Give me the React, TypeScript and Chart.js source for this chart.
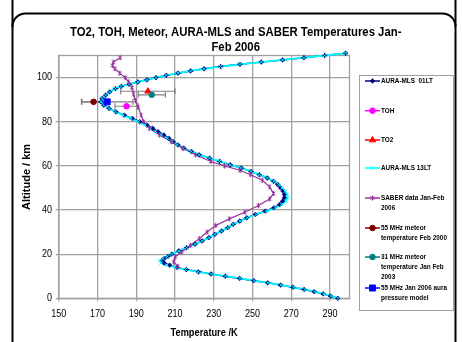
import React, { useEffect, useRef } from "react";
import { Chart, registerables } from "chart.js";

Chart.register(...registerables);

const FONT = "'Liberation Sans', Arial, sans-serif";
const SQUEEZE = 0.84; // the reference text is horizontally condensed

const titleLines = ["TO2, TOH, Meteor, AURA-MLS and SABER Temperatures Jan-", "Feb 2006"];
const xAxisTitle = "Temperature /K";
const yAxisTitle = "Altitude / km";
const xTicks = [150, 170, 190, 210, 230, 250, 270, 290];
const yTicks = [0, 20, 40, 60, 80, 100];

const seriesNames = [
  "AURA-MLS  01LT",
  "TOH",
  "TO2",
  "AURA-MLS 13LT",
  "SABER data Jan-Feb\n2006",
  "55 MHz meteor\ntemperature Feb 2000",
  "31 MHz meteor\ntemperature Jan Feb\n2003",
  "55 MHz Jan 2006 aura\npressure model",
];

// AURA-MLS profiles (altitude km, temperature K)
const auraAltitude = [
  0, 1, 2, 3, 4, 5, 6, 7, 8, 9, 10, 11, 12, 13, 14, 15, 16, 17, 18, 19, 20,
  21.5, 23, 24.5, 26, 27.5, 29, 30.5, 32, 33.5, 35, 36.5, 38, 39.5, 41, 42.5, 44, 45.5, 47, 48.5, 50,
  51.5, 53, 54.5, 56, 57.5, 59, 60.5, 62, 63.5, 65, 66.5, 68, 69.5, 71, 72.5, 74, 75.5, 77, 78.5, 80,
  81.5, 83, 84.5, 86, 87.5, 89, 90.5, 92, 93.5, 95, 96, 97, 98, 99, 100, 101, 102, 103, 104, 105,
  106, 107, 108, 109, 110, 111,
];
const aura01LT = [
  294, 290.2, 286.4, 281.8, 276.6, 270.8, 264.4, 257.8, 250.6, 243.3, 235.9, 228.6, 222.1, 215.8, 211, 207.2, 204.4, 203.4, 204.4, 206.4, 208.3,
  212, 216, 220.3, 224, 227.5, 230.5, 234, 237.2, 240, 243.4, 247, 251.5, 256.5, 261, 264, 265.5, 266.4, 266.5, 265.8, 264.5,
  263, 260.8, 257.6, 253.5, 249.2, 244.2, 238.5, 233, 227.8, 222.5, 218.5, 214.5, 211.5, 209, 206.8, 204.2, 201.2, 198.5, 195.5, 191.8,
  188, 183.8, 179.5, 176, 173.3, 171.8, 172.4, 174.2, 176.3, 179.3, 182.3, 186.3, 190.8, 195.5, 200.2, 205.5, 211.5, 218, 225, 233.5,
  243.5, 254.5, 265.5, 276.5, 287.2, 298,
];
const aura13LT = [
  294.3, 290.6, 286.8, 282.2, 277, 271.2, 264.8, 258.1, 250.9, 243.6, 236.1, 228.8, 222, 215.4, 210, 205.8, 202.8, 202.2, 203.8, 206, 208.2,
  212, 216, 220.3, 224, 227.5, 230.5, 234, 237.2, 240, 243.6, 247.3, 252, 257.2, 261.8, 265, 267.2, 268, 267.8, 266.8, 265.2,
  263.5, 261, 257.6, 253.5, 249.2, 244.2, 238.5, 233, 227.8, 222.5, 218.3, 214.3, 211.2, 208.5, 206, 203, 200, 197.2, 194.5, 191,
  187.2, 183.2, 179.3, 176, 173.3, 171.8, 172.4, 174.2, 176.3, 179.3, 182.3, 186.3, 190.8, 195.5, 200.2, 205.5, 211.5, 218, 225, 233.5,
  243.5, 254.5, 265.5, 276.5, 287.2, 298,
];

// SABER Jan-Feb 2006
const saberAltitude = [
  14.5, 16.5, 18.8, 21, 24, 27, 30, 33, 36, 39, 42, 45, 47.5, 50.5, 53.5, 56, 58, 60, 62, 65, 68, 71, 74, 77,
  80, 83, 86.5, 89.5, 92.5, 95.5, 98, 100, 102, 104, 105.5, 107, 109,
];
const saberTemp = [
  211.5, 209.3, 210.1, 213.5, 218, 222.5, 226.5, 231, 238, 246, 253, 258.8, 260.8, 258.8, 255, 249, 243.5, 235.5, 228.5, 220.5, 214, 208, 202, 196.8,
  193.8, 192.5, 191, 189.6, 188.6, 187.8, 186, 184.3, 181.5, 179, 177.7, 178.2, 181.7,
];

// single measurements: TOH, TO2, 55 MHz meteor 2000, 31 MHz meteor 2003, 55 MHz aura model
const pointTemp = [185, 196, 168, 198, 175];
const pointAltitude = [87, 93.8, 89, 92.2, 89];
const pointError = [6, 14, 6, 7, 13.3];

const toXY = (ts: number[], alts: number[]) => ts.map((t, i) => ({ x: t, y: alts[i] }));

// visual style per legend entry
const seriesStyle = [
  { color: "#000080", style: "rectRot", r: 2.4, fill: "#000080", stroke: "#000080", bw: 0.5 },
  { color: "#ff00ff", style: "circle", r: 2.8, fill: "#ff00ff", stroke: "#ff00ff", bw: 1 },
  { color: "#ff0000", style: "triangle", r: 3.6, fill: "#ff0000", stroke: "#ff0000", bw: 1 },
  { color: "#00ffff", style: "crossRot", r: 2.3, fill: "#00ffff", stroke: "#00ffff", bw: 1 },
  { color: "#993399", style: "asterisk", r: 2.6, fill: "#993399", stroke: "#993399", bw: 1 },
  { color: "#800000", style: "circle", r: 2.8, fill: "#800000", stroke: "#800000", bw: 1 },
  { color: "#008080", style: "circle", r: 2.8, fill: "#008080", stroke: "#008080", bw: 1 },
  { color: "#0000ff", style: "rect", r: 4.2, fill: "#0000ff", stroke: "#0000ff", bw: 1 },
];

function drawMarker(ctx: CanvasRenderingContext2D, style: string, x: number, y: number, r: number, fill: string, stroke: string, lw: number) {
  ctx.save();
  ctx.beginPath();
  ctx.lineWidth = lw;
  ctx.fillStyle = fill;
  ctx.strokeStyle = stroke;
  if (style === "circle") {
    ctx.arc(x, y, r, 0, Math.PI * 2);
    ctx.fill();
    ctx.stroke();
  } else if (style === "rect") {
    const s = r * Math.SQRT1_2;
    ctx.rect(x - s, y - s, 2 * s, 2 * s);
    ctx.fill();
    ctx.stroke();
  } else if (style === "rectRot") {
    ctx.moveTo(x, y - r);
    ctx.lineTo(x + r, y);
    ctx.lineTo(x, y + r);
    ctx.lineTo(x - r, y);
    ctx.closePath();
    ctx.fill();
    ctx.stroke();
  } else if (style === "triangle") {
    let a = 0;
    ctx.moveTo(x + Math.sin(a) * r, y - Math.cos(a) * r);
    a += (2 * Math.PI) / 3;
    ctx.lineTo(x + Math.sin(a) * r, y - Math.cos(a) * r);
    a += (2 * Math.PI) / 3;
    ctx.lineTo(x + Math.sin(a) * r, y - Math.cos(a) * r);
    ctx.closePath();
    ctx.fill();
    ctx.stroke();
  } else {
    const o = r * Math.SQRT1_2;
    ctx.moveTo(x - o, y - o);
    ctx.lineTo(x + o, y + o);
    ctx.moveTo(x - o, y + o);
    ctx.lineTo(x + o, y - o);
    if (style === "asterisk") {
      ctx.moveTo(x, y - r);
      ctx.lineTo(x, y + r);
    }
    ctx.stroke();
  }
  ctx.restore();
}

// Excel-like "star" marker (x with vertical bar) as an image for Chart.js
function markerImage(st: any) {
  const size = Math.ceil(st.r * 2 + 3);
  const c = document.createElement("canvas");
  c.width = size;
  c.height = size;
  const cx = c.getContext("2d");
  if (cx) drawMarker(cx, st.style, size / 2, size / 2, st.r, st.fill, st.stroke, st.bw);
  return c;
}

function text(ctx: CanvasRenderingContext2D, s: string, x: number, y: number, font: string, align: CanvasTextAlign, sx: number) {
  ctx.save();
  ctx.translate(x, y);
  ctx.scale(sx, 1);
  ctx.font = font;
  ctx.textAlign = align;
  ctx.textBaseline = "middle";
  ctx.fillStyle = "#000";
  ctx.fillText(s, 0, 0);
  ctx.restore();
}

const legendRows = [81, 110.7, 140, 168, 198, 228, 257, 288];

const decorPlugin = {
  id: "decor",
  beforeDraw(chart: any) {
    const { ctx, width, height } = chart;
    ctx.save();
    ctx.fillStyle = "#ffffff";
    ctx.fillRect(0, 0, width, height);
    ctx.restore();
  },
  beforeDatasetsDraw(chart: any) {
    const { ctx, chartArea: a, scales } = chart;
    ctx.save();
    ctx.strokeStyle = "#a0a0a0";
    ctx.lineWidth = 1.3;
    ctx.strokeRect(a.left, a.top, a.right - a.left, a.bottom - a.top);
    // error bars
    ctx.strokeStyle = "#808080";
    ctx.lineWidth = 1.2;
    for (let i = 0; i < pointTemp.length; i++) {
      const y = scales.y.getPixelForValue(pointAltitude[i]);
      const x1 = scales.x.getPixelForValue(pointTemp[i] - pointError[i]);
      const x2 = scales.x.getPixelForValue(pointTemp[i] + pointError[i]);
      ctx.beginPath();
      ctx.moveTo(x1, y);
      ctx.lineTo(x2, y);
      ctx.moveTo(x1, y - 3);
      ctx.lineTo(x1, y + 3);
      ctx.moveTo(x2, y - 3);
      ctx.lineTo(x2, y + 3);
      ctx.stroke();
    }
    ctx.restore();
  },
  afterDraw(chart: any) {
    const { ctx, chartArea: a, scales } = chart;
    ctx.save();
    // tick labels
    const tickFont = `10.5px ${FONT}`;
    xTicks.forEach((v) => text(ctx, String(v), scales.x.getPixelForValue(v), 314.2, tickFont, "center", 0.86));
    yTicks.forEach((v) => text(ctx, String(v), 52, scales.y.getPixelForValue(v), tickFont, "right", 0.86));
    // title
    const titleFont = `bold 13.5px ${FONT}`;
    text(ctx, titleLines[0], 235.7, 32, titleFont, "center", SQUEEZE);
    text(ctx, titleLines[1], 235.7, 47, titleFont, "center", SQUEEZE);
    // axis titles
    text(ctx, xAxisTitle, (a.left + a.right) / 2, 333, `bold 11px ${FONT}`, "center", SQUEEZE);
    ctx.save();
    ctx.translate(27, (a.top + a.bottom) / 2);
    ctx.rotate(-Math.PI / 2);
    text(ctx, yAxisTitle, 0, 0, `bold 11px ${FONT}`, "center", 1);
    ctx.restore();
    // legend
    ctx.fillStyle = "#fff";
    ctx.fillRect(359.5, 75.5, 94, 235);
    ctx.strokeStyle = "#a0a0a0";
    ctx.lineWidth = 1;
    ctx.strokeRect(359.5, 75.5, 94, 235);
    seriesNames.forEach((name, i) => {
      const st = seriesStyle[i];
      const y = legendRows[i];
      ctx.strokeStyle = st.color;
      ctx.lineWidth = 1.5;
      ctx.beginPath();
      ctx.moveTo(365, y);
      ctx.lineTo(380, y);
      ctx.stroke();
      drawMarker(ctx, st.style, 372.5, y, st.r, st.fill, st.stroke, st.bw);
      name.split("\n").forEach((line, k) => {
        text(ctx, line, 381, y + k * 9.8, `bold 7.7px ${FONT}`, "left", 0.83);
      });
    });
    // outer frame
    ctx.strokeStyle = "#000";
    ctx.lineWidth = 2;
    ctx.beginPath();
    ctx.moveTo(12.5, 0);
    ctx.lineTo(12.5, 342);
    ctx.moveTo(455.5, 0);
    ctx.lineTo(455.5, 342);
    ctx.stroke();
    ctx.beginPath();
    ctx.moveTo(12.5, 27);
    ctx.arcTo(12.5, 13.5, 26, 13.5, 13);
    ctx.lineTo(442, 13.5);
    ctx.arcTo(455.5, 13.5, 455.5, 27, 13);
    ctx.stroke();
    ctx.restore();
  },
};

export default function App() {
  const ref = useRef<HTMLCanvasElement>(null);
  useEffect(() => {
    const canvas = ref.current;
    if (!canvas) return;
    const lineOnly = (i: number, data: any[], width: number, order: number) => ({
      label: seriesNames[i] + " line",
      data,
      showLine: true,
      borderColor: seriesStyle[i].color,
      backgroundColor: seriesStyle[i].color,
      borderWidth: width,
      pointRadius: 0,
      order,
      clip: false,
    });
    const markers = (i: number, data: any[], order: number) => {
      const st = seriesStyle[i];
      return {
        label: seriesNames[i],
        data,
        showLine: false,
        borderColor: st.color,
        backgroundColor: st.fill,
        pointStyle: st.style === "asterisk" ? markerImage(st) : st.style,
        pointRadius: st.r,
        pointBackgroundColor: st.fill,
        pointBorderColor: st.stroke,
        pointBorderWidth: st.bw,
        order,
        clip: false,
      };
    };
    const single = (k: number) => [{ x: pointTemp[k], y: pointAltitude[k] }];
    // lines are drawn first (under all markers), markers in legend order on top
    const datasets = [
      lineOnly(0, toXY(aura01LT, auraAltitude), 1.5, 30),
      lineOnly(3, toXY(aura13LT, auraAltitude), 1.8, 29),
      lineOnly(4, toXY(saberTemp, saberAltitude), 1.2, 28),
      markers(0, toXY(aura01LT, auraAltitude), 20),
      markers(1, single(0), 19),
      markers(2, single(1), 18),
      markers(3, toXY(aura13LT, auraAltitude), 17),
      markers(4, toXY(saberTemp, saberAltitude), 16),
      markers(5, single(2), 15),
      markers(6, single(3), 14),
      markers(7, single(4), 13),
    ];
    const chart = new Chart(canvas, {
      type: "scatter",
      data: { datasets } as any,
      options: {
        animation: false,
        responsive: false,
        devicePixelRatio: 1,
        events: [],
        layout: { padding: { top: 55.5, right: 112.5, bottom: 0, left: 0 } },
        plugins: { legend: { display: false }, title: { display: false }, tooltip: { enabled: false } },
        scales: {
          x: {
            type: "linear",
            min: 150,
            max: 300,
            afterBuildTicks: (axis: any) => {
              axis.ticks = xTicks.map((v) => ({ value: v }));
            },
            afterFit: (s: any) => {
              s.height = 43.7;
            },
            ticks: { display: false },
            grid: { color: "#a0a0a0", lineWidth: 1.3, tickLength: 3, drawTicks: true },
            border: { display: true, color: "#a0a0a0", width: 1.3 },
          },
          y: {
            type: "linear",
            min: 0,
            max: 110,
            afterBuildTicks: (axis: any) => {
              axis.ticks = yTicks.map((v) => ({ value: v }));
            },
            afterFit: (s: any) => {
              s.width = 58.7;
            },
            ticks: { display: false },
            grid: { color: "#a0a0a0", lineWidth: 1.3, tickLength: 3, drawTicks: true },
            border: { display: true, color: "#a0a0a0", width: 1.3 },
          },
        },
      } as any,
      plugins: [decorPlugin],
    });
    return () => chart.destroy();
  }, []);
  return (
    <div style={{ position: "fixed", left: 0, top: 0, width: 462, height: 342, background: "#fff" }}>
      <canvas ref={ref} width={462} height={342} style={{ display: "block" }} />
    </div>
  );
}
